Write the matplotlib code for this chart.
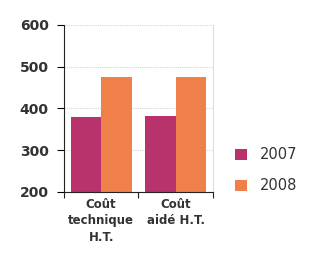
import matplotlib.pyplot as plt
import numpy as np

# data
categories = ["Coût\ntechnique\nH.T.", "Coût\naidé H.T."]
years = ["2007", "2008"]
values_2007 = [380, 383]
values_2008 = [475, 475]
colors = ["#b8336c", "#f0804a"]

fig = plt.figure(figsize=(3.1, 2.57), dpi=100)
ax = fig.add_axes([0.206, 0.253, 0.481, 0.65])

x = np.arange(len(categories)) + 0.5
w = 0.41
ax.bar(x - w / 2, values_2007, w, bottom=0, color=colors[0], label=years[0])
ax.bar(x + w / 2, values_2008, w, bottom=0, color=colors[1], label=years[1])

ax.set_ylim(200, 600)
ax.set_xlim(0, 2)
ax.set_yticks([200, 300, 400, 500, 600])
ax.set_xticks([0, 1, 2])
ax.set_xticklabels([])
ax.set_xticks(x, minor=True)
ax.set_xticklabels(categories, minor=True, fontsize=8.5, fontweight="bold",
                   color="#333333", linespacing=1.35)
ax.tick_params(axis="x", which="minor", length=0, pad=4)
ax.tick_params(axis="x", which="major", length=4, direction="out", color="#222222")
ax.tick_params(axis="y", length=5, direction="out", labelsize=10, labelcolor="#333333", pad=6)
for lab in ax.get_yticklabels():
    lab.set_fontweight("bold")

ax.yaxis.grid(True, color="#d5d5d5", linewidth=0.8, linestyle=(0, (1, 1)))
ax.set_axisbelow(True)
ax.spines["top"].set_visible(False)
ax.spines["right"].set_color("#dddddd")
ax.spines["left"].set_color("#222222")
ax.spines["bottom"].set_color("#222222")

ax.legend(loc="center left", bbox_to_anchor=(1.06, 0.13), frameon=False,
          fontsize=10.5, handlelength=0.8, handleheight=0.8, labelspacing=1.1,
          handletextpad=0.9, labelcolor="#333333")

fig.savefig("out.png", dpi=100)
